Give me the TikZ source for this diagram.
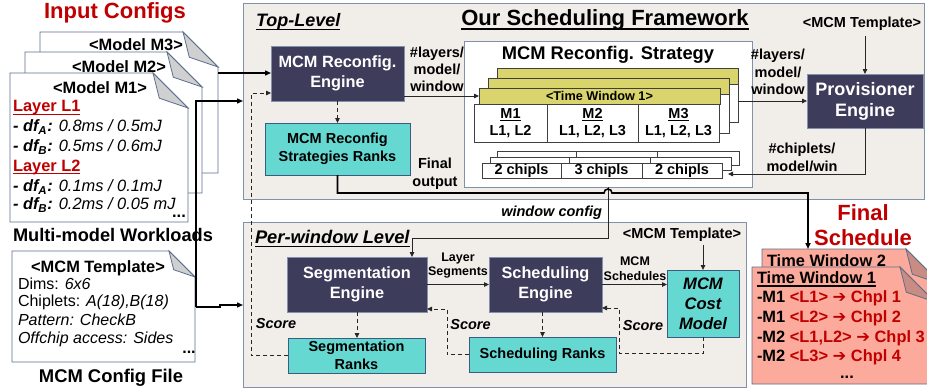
\documentclass[tikz,border=0pt]{standalone}
\usepackage{fontspec}
\setmainfont{Liberation Sans}
\newfontfamily\arrowfont{DejaVu Sans}
\usetikzlibrary{arrows.meta,calc}

\definecolor{panelfill}{HTML}{F1EEEA}
\definecolor{panelline}{HTML}{8290AC}
\definecolor{docline}{HTML}{5C6D8E}
\definecolor{enginefill}{HTML}{3E3C5B}
\definecolor{rankfill}{HTML}{66D8D2}
\definecolor{rankline}{HTML}{3A5C80}
\definecolor{cfgred}{HTML}{C00000}
\definecolor{winfill}{HTML}{D9D46C}
\definecolor{schedfill}{HTML}{FBAA9B}
\definecolor{schedfold}{HTML}{C98C82}
\definecolor{foldgray}{HTML}{D0D0D0}

% font size helper
\newcommand\fsz[2]{\fontsize{#1pt}{#2pt}\selectfont}
% underline with a rule that scales with the font
\newcommand\uline[1]{\setbox0\hbox{#1}\leavevmode\rlap{\rule[-0.2em]{\wd0}{0.075em}}\box0}
% heavy right arrow used in the schedule listing
\newcommand\hvarrow{{\arrowfont\bfseries ➔}}
% sheet of paper with a folded top-right corner, drawn over a placeholder node
\newcommand\foldeddoc[4]{%
  \filldraw[fill=#3, draw=docline, line width=0.8pt] (#1.south west) -- (#1.north west)
    -- ($(#1.north east)+(-#2,0)$) -- ($(#1.north east)+(0,#2)$) -- (#1.south east) -- cycle;
  \filldraw[fill=#4, draw=docline, line width=0.8pt] ($(#1.north east)+(-#2,0)$)
    -- ($(#1.north east)+(-0.82*#2,0.72*#2)$) -- ($(#1.north east)+(0,#2)$) -- cycle;}

\tikzset{
  every node/.style={inner sep=0pt, outer sep=0pt},
  panel/.style={draw=panelline, fill=panelfill, line width=0.9pt},
  engine/.style={draw=panelline, fill=enginefill, text=white, line width=0.8pt,
    font=\bfseries\fsz{16.3}{19.5}, align=center},
  ranks/.style={draw=rankline, fill=rankfill, line width=0.8pt,
    font=\bfseries\fsz{14.5}{18}, align=center},
  lbl/.style={font=\bfseries\fsz{14.5}{17.5}, align=center},
  slbl/.style={font=\bfseries\fsz{12.5}{14.5}, align=center},
  score/.style={font=\bfseries\itshape\fsz{14.5}{17}},
  winbody/.style={draw=black!75, fill=white, line width=0.8pt},
  winhead/.style={draw=black!75, fill=winfill, line width=0.8pt},
  cell/.style={winbody, font=\bfseries\fsz{14.5}{17}, align=center},
  doctext/.style={anchor=west, font=\fsz{16.4}{19}},
  link/.style={-{Triangle[length=5pt,width=4.5pt]}, line width=0.8pt, draw=black!85},
  dlink/.style={link, dash pattern=on 4pt off 3pt},
  inlink/.style={-{Triangle[length=6pt,width=5pt]}, line width=1.4pt},
}

\begin{document}
\begin{tikzpicture}[x=1pt,y=-1pt]
\useasboundingbox (0,0) rectangle (927,391);
\fill[white] (0,0) rectangle (927,391);

% ---------- framework panels ----------
\node[panel, minimum width=681, minimum height=196] (top) at (583.5,101) {};
\node[panel, minimum width=503, minimum height=165] (pw) at (494.5,304.5) {};

\node[anchor=west, font=\bfseries\itshape\fsz{18}{20}] (toplbl) at (256,22) {\uline{Top-Level}};
\node[font=\bfseries\fsz{22}{24}] (fwtitle) at (605,20) {\uline{Our Scheduling Framework}};
\node[anchor=west, font=\bfseries\itshape\fsz{18.3}{20}] (pwlbl) at (255,239) {\uline{Per-window Level}};

% ---------- reconfiguration strategy ----------
\node[draw=panelline, fill=white, line width=0.9pt, minimum width=288, minimum height=146] (strat) at (608,114) {};
\node[font=\bfseries\fsz{18.3}{20}] (stitle) at (608,55) {MCM Reconfig. Strategy};

\node[winbody, minimum width=241, minimum height=54] (w3) at (617.5,95) {};
\node[winhead, minimum width=241, minimum height=16] (w3h) at (617.5,76) {};
\node[winbody, minimum width=241, minimum height=55] (w2) at (608.5,105.5) {};
\node[winhead, minimum width=241, minimum height=16] (w2h) at (608.5,86) {};
\node[winhead, minimum width=241, minimum height=16, font=\bfseries\fsz{12.7}{14}] (w1h) at (599.5,96) {<Time Window 1>};
\node[cell, minimum width=73, minimum height=38] (t1) at (510.5,123) {\uline{M1}\\L1, L2};
\node[cell, minimum width=91, minimum height=38] (t2) at (592.5,123) {\uline{M2}\\L1, L2, L3};
\node[cell, minimum width=81, minimum height=38] (t3) at (678.5,123) {\uline{M3}\\L1, L2, L3};

\node[winbody, minimum width=242, minimum height=14] (cr3) at (618,158) {};
\draw[black!75, line width=0.8pt] ($(cr3.north west)+(79,0)$) -- ++(0,14) ($(cr3.north west)+(160,0)$) -- ++(0,14);
\node[winbody, minimum width=241, minimum height=13] (cr2) at (610.5,163.5) {};
\draw[black!75, line width=0.8pt] ($(cr2.north west)+(79,0)$) -- ++(0,13) ($(cr2.north west)+(160,0)$) -- ++(0,13);
\node[cell, minimum width=79, minimum height=15] (c1) at (521.5,170.5) {2 chipls};
\node[cell, minimum width=81, minimum height=15] (c2) at (601.5,170.5) {3 chipls};
\node[cell, minimum width=80, minimum height=15] (c3) at (682,170.5) {2 chipls};

% ---------- top-level engines ----------
\node[engine, minimum width=133, minimum height=55] (re) at (337.5,73.5) {MCM Reconfig.\\Engine};
\node[ranks, minimum width=145, minimum height=52] (rr) at (337.5,149) {MCM Reconfig\\Strategies Ranks};
\node[engine, minimum width=116, minimum height=54, font=\bfseries\fsz{18}{21}] (prov) at (865,101) {Provisioner\\Engine};

\node[font=\bfseries\fsz{14.5}{17}] (tmpl1) at (862,24) {<MCM Template>};
\node[lbl, font=\bfseries\fsz{14.5}{17}] (lay1) at (437,69) {\#layers/\\model/\\window};
\node[lbl, font=\bfseries\fsz{14.5}{17.5}] (lay2) at (778,72) {\#layers/\\model/\\window};
\node[lbl, font=\bfseries\fsz{14.5}{18}] (chipl) at (802,157) {\#chiplets/\\model/win};
\node[lbl, font=\bfseries\fsz{14.5}{18}] (fout) at (435,174) {Final\\output};
\node[anchor=east, font=\bfseries\itshape\fsz{14.5}{17}] (wcfg) at (602,213) {window config};

% ---------- per-window engines ----------
\node[engine, minimum width=140, minimum height=55] (seg) at (357,284.5) {Segmentation\\Engine};
\node[ranks, minimum width=137, minimum height=35] (sr) at (356.5,355.5) {Segmentation\\Ranks};
\node[engine, minimum width=113, minimum height=55] (sch) at (545.5,284.5) {Scheduling\\Engine};
\node[ranks, minimum width=147, minimum height=35] (ssr) at (542.5,354.5) {Scheduling Ranks};
\node[ranks, minimum width=72, minimum height=67, font=\bfseries\itshape\fsz{16.6}{20}] (cost) at (703,303.5) {MCM\\Cost\\Model};

\node[font=\bfseries\fsz{14.5}{17}] (tmpl2) at (682,235) {<MCM Template>};
\node[slbl, font=\bfseries\fsz{12.5}{14}] (layseg) at (458,266) {Layer\\Segments};
\node[slbl, font=\bfseries\fsz{12.5}{15.5}] (mcmsch) at (635,268.5) {MCM\\Schedules};
\node[score] (score1) at (276,324) {Score};
\node[score] (score2) at (470.5,325) {Score};
\node[score] (score3) at (643,326) {Score};

% ---------- helper points for connectors ----------
\coordinate (segin) at ($(seg.north east)+(-15,0)$);
\coordinate (wbend) at ($(strat.south)+(0,51)$);
\coordinate (reloop) at ($(re.west)+(0,19.5)$);
\coordinate (reloopx) at ($(re.west)+(-20,19.5)$);
\coordinate (segloop) at ($(seg.south east)+(0,-3)$);
\coordinate (segloopx) at ($(seg.south east)+(20,-3)$);
\coordinate (schloop) at ($(sch.south east)+(0,-4)$);
\coordinate (costloop) at ($(ssr.east)+(3,-1)$);
\coordinate (chipin) at ($(c3.east)+(6,3.5)$);
\coordinate (provtop) at ($(tmpl1.south -| prov.north)+(0,5)$);
\coordinate (costtop) at ($(tmpl2.south -| cost.north)+(0,3)$);

% ---------- connectors inside the framework ----------
\draw[link] (re.east |- w1h.west) -- (w1h.west);
\draw[link] (w3.east |- prov.west) -- (prov.west);
\draw[link] (provtop) -- (prov.north);
\draw[link] (prov.south) |- (chipin);
\draw[dlink] (re.south) -- (rr.north);
\draw[link] (strat.south) -- (wbend) -- (wbend -| segin) -- (segin);

\draw[link] (seg.east) -- (sch.west);
\draw[link] (sch.east) -- (sch.east -| cost.west);
\draw[link] (costtop) -- (cost.north);
\draw[dlink] (seg.south) -- (seg.south |- sr.north);
\draw[dlink] (sch.south -| ssr.north) -- (ssr.north);
\draw[dlink] (cost.south) |- (costloop) |- (schloop);
\draw[dlink] (ssr.west) -| (segloopx) -- (segloop);
\draw[dlink] (sr.west) -| (reloopx) -- (reloop);

% ---------- input configuration sheets ----------
\node[font=\bfseries\fsz{22}{24}, text=cfgred] (incfg) at (115,13) {Input Configs};

\node[minimum width=178, minimum height=141] (m3) at (129,102.5) {};
\foldeddoc{m3}{35}{white}{foldgray}
\node[font=\bfseries\fsz{16.4}{19}] (m3lab) at (136,45) {<Model M3>};
\node[minimum width=177, minimum height=141] (m2) at (113.5,122.5) {};
\foldeddoc{m2}{35}{white}{foldgray}
\node[font=\bfseries\fsz{16.4}{19}] (m2lab) at (119,67) {<Model M2>};
\node[minimum width=178, minimum height=149] (m1) at (99,147.5) {};
\foldeddoc{m1}{35}{white}{foldgray}
\node[font=\bfseries\fsz{16.4}{19}] (m1lab) at (100,88) {<Model M1>};
\node[doctext, font=\bfseries\fsz{16.4}{19}, text=cfgred] (ml1) at (13,108) {\uline{Layer L1}};
\node[doctext] (ml2) at (13,127) {\textbf{\itshape - df\textsubscript{A}:} \textit{0.8ms / 0.5mJ}};
\node[doctext] (ml3) at (13,147) {\textbf{\itshape - df\textsubscript{B}:} \textit{0.5ms / 0.6mJ}};
\node[doctext, font=\bfseries\fsz{16.4}{19}, text=cfgred] (ml4) at (13,167) {\uline{Layer L2}};
\node[doctext] (ml5) at (13,187) {\textbf{\itshape - df\textsubscript{A}:} \textit{0.1ms / 0.1mJ}};
\node[doctext] (ml6) at (13,205) {\textbf{\itshape - df\textsubscript{B}:} \textit{0.2ms / 0.05 mJ}};
\node[font=\bfseries\fsz{16.4}{19}] (mdots) at (179,216) {...};
\node[font=\bfseries\fsz{18.2}{20}] (mmw) at (113,235) {Multi-model Workloads};

\node[minimum width=183, minimum height=111] (tpl) at (103.5,306.5) {};
\foldeddoc{tpl}{26}{white}{foldgray}
\node[font=\bfseries\fsz{16.4}{19}] (tplhead) at (98,268) {<MCM Template>};
\node[doctext, font=\fsz{16}{18}] (tp1) at (18,284) {Dims: \textit{6x6}};
\node[doctext, font=\fsz{16}{18}] (tp2) at (18,302) {Chiplets: \textit{A(18),B(18)}};
\node[doctext, font=\itshape\fsz{16}{18}] (tp3) at (18,320) {Pattern: CheckB};
\node[doctext, font=\itshape\fsz{16}{18}] (tp4) at (18,339) {Offchip access: Sides};
\node[font=\bfseries\fsz{16}{18}] (tdots) at (189,352) {...};
\node[font=\bfseries\fsz{18.4}{20}] (mcf) at (111,378) {MCM Config File};

% ---------- inputs into the framework ----------
\coordinate (m3out) at ($(m3.north east)+(0,41)$);
\draw[inlink] (m3out) -- (m3out -| re.west);
\coordinate (cfgtap) at ($(tpl.east)+(1,0.5)$);
\coordinate (cfgtop) at ($(m1.north east)+(8,28)$);
\draw[inlink] (cfgtap) -- (cfgtop) -- (cfgtop -| top.west);
\draw[inlink] (cfgtap) -- ++(24,0) -- ++(0,-2) coordinate (jog) -- (jog -| pw.west);

% ---------- final schedule sheets ----------
\node[font=\bfseries\fsz{22}{25}, text=cfgred, align=center] (fsl) at (863,225.5) {Final\\Schedule};
\node[minimum width=179, minimum height=121] (f2) at (851.5,309.5) {};
\foldeddoc{f2}{35}{schedfill}{schedfold}
\node[anchor=west, font=\bfseries\fsz{16.4}{19}] (f2lab) at (767,261) {Time Window 2};
\node[minimum width=183, minimum height=117] (f1) at (843.5,325.5) {};
\foldeddoc{f1}{35}{schedfill}{schedfold}
\node[anchor=west, font=\bfseries\fsz{16.4}{19}] (f1lab) at (757,279) {\uline{Time Window 1}};
\node[anchor=west, font=\bfseries\fsz{16.4}{19}] (fs1) at (757,298) {-M1 \textcolor{cfgred}{<L1> \hvarrow{} Chpl 1}};
\node[anchor=west, font=\bfseries\fsz{16.4}{19}] (fs2) at (757,318) {-M1 \textcolor{cfgred}{<L2> \hvarrow{} Chpl 2}};
\node[anchor=west, font=\bfseries\fsz{16.4}{19}] (fs3) at (757,338) {-M2 \textcolor{cfgred}{<L1,L2> \hvarrow{} Chpl 3}};
\node[anchor=west, font=\bfseries\fsz{16.4}{19}] (fs4) at (757,357) {-M2 \textcolor{cfgred}{<L3> \hvarrow{} Chpl 4}};
\node[font=\bfseries\fsz{16.4}{19}] (fdots) at (847,377) {...};

% ---------- final output route, hopping over the window-config line ----------
\coordinate (fo1) at ($(rr.south)+(0,18)$);
\coordinate (hop) at ($(strat.south)+(-4,0)$);
\coordinate (fsin) at ($(f2.north west)+(46,0)$);
\draw[-{Triangle[length=6pt,width=5pt]}, line width=1.6pt]
  (rr.south) -- (fo1) -- (fo1 -| hop) arc (180:360:4) -- (fo1 -| fsin) -- (fsin);
\end{tikzpicture}
\end{document}
